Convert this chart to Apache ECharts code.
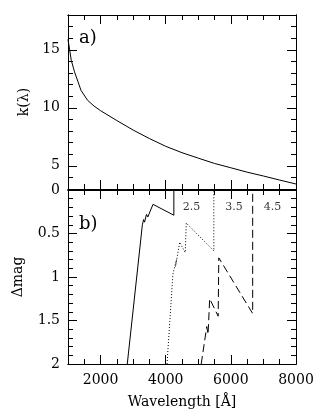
<!DOCTYPE html>
<html><head><meta charset="utf-8">
<script src="https://cdn.jsdelivr.net/npm/echarts@6/dist/echarts.min.js"></script>
<style>html,body{margin:0;padding:0;background:#fff}#c{width:330px;height:416px}</style>
</head><body><div id="c"></div>
<script>
// Panel a: extinction curve k(lambda)
const kWavelength = [1000,1050,1100,1200,1300,1400,1600,1800,2000,2500,3000,3500,4000,4500,5000,5500,6000,6500,7000,7500,8000];
const kValues     = [15.9,15.0,14.1,13.1,12.3,11.5,10.65,10.15,9.75,8.9,8.08,7.35,6.68,6.13,5.66,5.2,4.83,4.45,4.12,3.77,3.43];

// Panel b: delta mag curves
const solidLambda  = [2820,3283,3320,3350,3410,3450,3610,4250,4250];
const solidMag     = [2.0,0.40,0.34,0.37,0.28,0.31,0.165,0.29,0];
const dottedLambda = [4040,4220,4330,4300,4430,4600,4630,5477,5477];
const dottedMag    = [2.0,0.97,0.80,0.88,0.60,0.72,0.38,0.70,0];
const dashedLambda = [5090,5260,5300,5350,5610,5630,6670,6670];
const dashedMag    = [2.0,1.57,1.66,1.25,1.45,0.78,1.42,0];

// redshift annotations
const zLabels = ['2.5','3.5','4.5'];
const zLabelLambda = [4790,6100,7280];
const zLabelMag = [0.2,0.2,0.2];

// ticks
const xMajorTicks = [2000,4000,6000,8000];
const kMajorTicks = [5,10,15];
const magMajorTicks = [0,0.5,1,1.5,2];

const FONT = 'DejaVu Serif';
const zip = (a,b) => a.map((v,i)=>[v,b[i]]);
const line = {show:true, onZero:false, lineStyle:{color:'#000', width:1}};
const plain = v => String(v);

function xAxis(grid, pos, major, labels) {
  const ax = {
    type:'value', gridIndex:grid, position:pos, min:1000, max:8000,
    axisLine:line, splitLine:{show:false},
    axisTick:{show:true, inside:true, length: major?9:5, lineStyle:{color:'#000',width:1}},
    axisLabel:{show:false}
  };
  if (major) { ax.axisTick.customValues = xMajorTicks; }
  else { ax.interval = 500; }
  if (labels) {
    ax.axisLabel = {show:true, customValues:xMajorTicks, formatter:plain, color:'#000', fontFamily:FONT, fontSize:14, margin:9};
    ax.name = 'Wavelength [Å]'; ax.nameLocation='middle'; ax.nameGap=31;
    ax.nameTextStyle = {color:'#000', fontFamily:FONT, fontSize:14};
  }
  return ax;
}
function yAxis(grid, pos, major, cfg) {
  const ax = {
    type:'value', gridIndex:grid, position:pos, min:cfg.min, max:cfg.max, inverse:!!cfg.inverse,
    axisLine:line, splitLine:{show:false},
    axisTick:{show:true, inside:true, length: major?9:5, lineStyle:{color:'#000',width:1}},
    axisLabel:{show:false}
  };
  if (major) { ax.axisTick.customValues = cfg.majors; }
  else { ax.interval = cfg.minor; }
  if (major && pos==='left') {
    ax.axisLabel = {show:true, customValues:cfg.majors, formatter:plain, color:'#000', fontFamily:FONT, fontSize:14, margin:8};
    ax.name = cfg.name; ax.nameLocation='middle'; ax.nameGap=cfg.gap; ax.nameRotate=90;
    ax.nameTextStyle = {color:'#000', fontFamily:FONT, fontSize:14};
  }
  return ax;
}
const kCfg = {min:3, max:18, minor:1, majors:kMajorTicks, name:'k(λ)', gap:36};
const mCfg = {min:0, max:2, minor:0.1, majors:magMajorTicks, name:'Δmag', gap:43, inverse:true};

const option = {
  animation:false,
  backgroundColor:'#fff',
  grid:[
    {left:68, top:15, width:228, height:174},
    {left:68, top:190, width:228, height:174}
  ],
  xAxis:[
    xAxis(0,'bottom',false), xAxis(0,'bottom',true), xAxis(0,'top',false), xAxis(0,'top',true),
    xAxis(1,'bottom',false), xAxis(1,'bottom',true,true), xAxis(1,'top',false), xAxis(1,'top',true)
  ],
  yAxis:[
    yAxis(0,'left',false,kCfg), yAxis(0,'left',true,kCfg), yAxis(0,'right',false,kCfg), yAxis(0,'right',true,kCfg),
    yAxis(1,'left',false,mCfg), yAxis(1,'left',true,mCfg), yAxis(1,'right',false,mCfg), yAxis(1,'right',true,mCfg)
  ],
  graphic:[
    {type:'text', left:79, top:29, style:{text:'a)', font:'18px "DejaVu Serif"', fill:'#000'}},
    {type:'text', left:79, top:215, style:{text:'b)', font:'18px "DejaVu Serif"', fill:'#000'}}
  ],
  series:[
    {type:'line', xAxisIndex:0, yAxisIndex:0, data:zip(kWavelength,kValues), showSymbol:false, smooth:false,
     lineStyle:{color:'#000', width:1}},
    {type:'line', xAxisIndex:4, yAxisIndex:4, data:zip(solidLambda,solidMag), showSymbol:false,
     lineStyle:{color:'#000', width:1}},
    {type:'line', xAxisIndex:4, yAxisIndex:4, data:zip(dottedLambda,dottedMag), showSymbol:false,
     lineStyle:{color:'#000', width:1, type:[1,2]}},
    {type:'line', xAxisIndex:4, yAxisIndex:4, data:zip(dashedLambda,dashedMag), showSymbol:false,
     lineStyle:{color:'#000', width:1, type:[8,4]}},
    {type:'scatter', xAxisIndex:4, yAxisIndex:4, symbolSize:0, silent:true,
     data:zLabels.map((t,i)=>({name:t, value:[zLabelLambda[i], zLabelMag[i]]})),
     label:{show:true, position:'inside', formatter:'{b}', color:'#000', fontFamily:FONT, fontSize:11}}
  ]
};
echarts.init(document.getElementById('c')).setOption(option);
</script></body></html>
